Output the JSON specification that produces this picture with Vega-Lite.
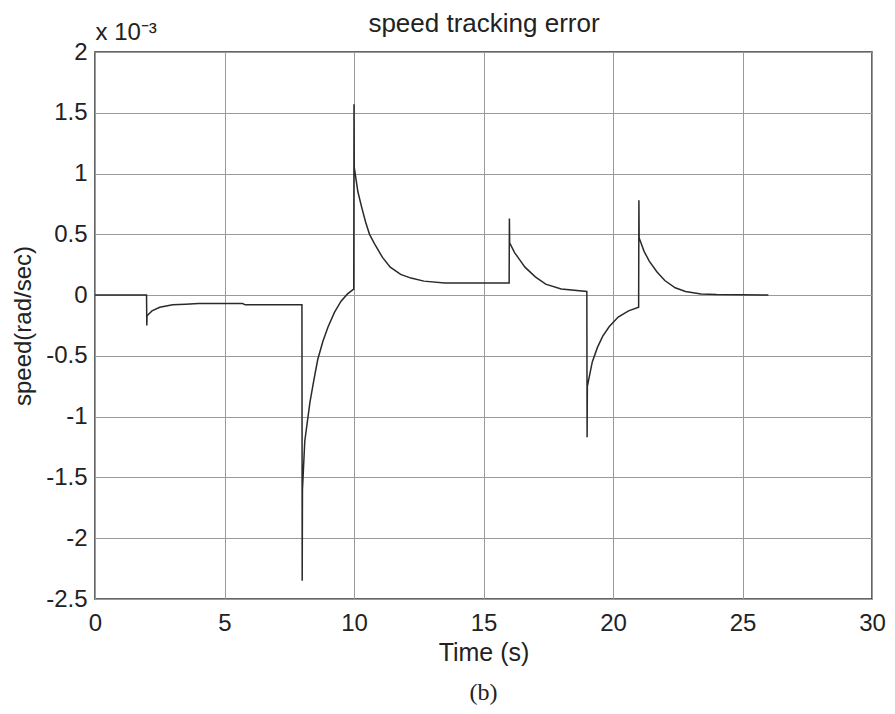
{
  "$schema": "https://vega.github.io/schema/vega-lite/v6.json",
  "width": 777,
  "height": 547,
  "autosize": {"type": "none"},
  "padding": {"left": 95, "top": 52, "right": 23, "bottom": 115},
  "background": "white",
  "config": {
    "font": "Liberation Sans",
    "view": {"stroke": "#333333", "strokeWidth": 1.5},
    "axis": {"labelFont": "Liberation Sans", "titleFont": "Liberation Sans", "labelColor": "#222222", "titleColor": "#222222", "titleFontWeight": "normal", "labelFlush": false}
  },
  "title": {"text": "(b)", "orient": "bottom", "font": "Liberation Serif", "fontSize": 24, "fontWeight": "normal", "color": "#222222", "offset": 16, "anchor": "middle"},
  "data": {"values": [
    {"t": 0, "v": 0}, {"t": 1.99, "v": 0}, {"t": 2.0, "v": -0.25}, {"t": 2.01, "v": -0.17},
    {"t": 2.2, "v": -0.13}, {"t": 2.5, "v": -0.1}, {"t": 3.0, "v": -0.08}, {"t": 3.5, "v": -0.075},
    {"t": 4.0, "v": -0.07}, {"t": 5.7, "v": -0.07}, {"t": 5.8, "v": -0.08}, {"t": 7.99, "v": -0.08},
    {"t": 8.0, "v": -2.35}, {"t": 8.01, "v": -1.6}, {"t": 8.1, "v": -1.2}, {"t": 8.3, "v": -0.88},
    {"t": 8.45, "v": -0.7}, {"t": 8.6, "v": -0.53}, {"t": 8.8, "v": -0.38}, {"t": 9.0, "v": -0.26},
    {"t": 9.25, "v": -0.14}, {"t": 9.5, "v": -0.05}, {"t": 9.75, "v": 0.01}, {"t": 9.99, "v": 0.05},
    {"t": 10.0, "v": 1.57}, {"t": 10.01, "v": 1.05}, {"t": 10.15, "v": 0.85}, {"t": 10.3, "v": 0.72},
    {"t": 10.45, "v": 0.6}, {"t": 10.6, "v": 0.5}, {"t": 10.8, "v": 0.42}, {"t": 11.1, "v": 0.31},
    {"t": 11.4, "v": 0.23}, {"t": 11.8, "v": 0.17}, {"t": 12.2, "v": 0.14}, {"t": 12.7, "v": 0.115},
    {"t": 13.5, "v": 0.1}, {"t": 15.99, "v": 0.1}, {"t": 16.0, "v": 0.63}, {"t": 16.01, "v": 0.43},
    {"t": 16.2, "v": 0.35}, {"t": 16.4, "v": 0.29}, {"t": 16.6, "v": 0.23}, {"t": 17.0, "v": 0.15},
    {"t": 17.4, "v": 0.09}, {"t": 18.0, "v": 0.05}, {"t": 18.99, "v": 0.03}, {"t": 19.0, "v": -1.17},
    {"t": 19.01, "v": -0.75}, {"t": 19.2, "v": -0.55}, {"t": 19.4, "v": -0.43}, {"t": 19.6, "v": -0.34},
    {"t": 19.85, "v": -0.26}, {"t": 20.2, "v": -0.18}, {"t": 20.6, "v": -0.13}, {"t": 20.99, "v": -0.1},
    {"t": 21.0, "v": 0.78}, {"t": 21.01, "v": 0.47}, {"t": 21.2, "v": 0.36}, {"t": 21.4, "v": 0.28},
    {"t": 21.7, "v": 0.19}, {"t": 22.0, "v": 0.12}, {"t": 22.4, "v": 0.06}, {"t": 22.8, "v": 0.03},
    {"t": 23.4, "v": 0.01}, {"t": 24.0, "v": 0.005}, {"t": 26.0, "v": 0}
  ]},
  "layer": [
    {
      "mark": {"type": "line", "color": "#2a2a2a", "strokeWidth": 1.5, "clip": true},
      "encoding": {
        "x": {"field": "t", "type": "quantitative",
          "scale": {"domain": [0, 30], "nice": false, "zero": false},
          "axis": {"orient": "bottom", "values": [0, 5, 10, 15, 20, 25, 30], "format": "d",
            "grid": true, "gridColor": "#9a9a9a", "gridWidth": 1, "gridOpacity": 1,
            "domain": false, "ticks": false, "tickSize": 0,
            "labelFontSize": 24, "labelPadding": 31, "labelBaseline": "alphabetic",
            "title": "Time (s)", "titleFontSize": 25, "titleBaseline": "alphabetic", "titleX": 388.5, "titleY": 61}},
        "y": {"field": "v", "type": "quantitative",
          "scale": {"domain": [-2.5, 2], "nice": false, "zero": false},
          "axis": {"values": [-2.5, -2, -1.5, -1, -0.5, 0, 0.5, 1, 1.5, 2],
            "labelExpr": "datum.value < 0 ? '-' + format(-datum.value, '~g') : format(datum.value, '~g')",
            "grid": true, "gridColor": "#9a9a9a", "gridWidth": 1, "gridOpacity": 1,
            "domain": false, "ticks": false, "tickSize": 0,
            "labelFontSize": 24, "labelPadding": 8,
            "title": "speed(rad/sec)", "titleFontSize": 24, "titleAngle": -90, "titleBaseline": "alphabetic", "titleX": -65, "titleY": 273.5}}
      }
    },
    {
      "mark": {"type": "rule", "opacity": 0},
      "encoding": {
        "x": {"field": "t", "type": "quantitative",
          "axis": {"orient": "top", "labels": false, "ticks": false, "domain": false, "grid": false,
            "title": "speed tracking error", "titleFontSize": 26, "titleBaseline": "alphabetic", "titleX": 388.5, "titleY": -21}}
      }
    },
    {
      "mark": {"type": "rule", "opacity": 0},
      "encoding": {
        "x": {"field": "t", "type": "quantitative",
          "axis": {"orient": "top", "labels": false, "ticks": false, "domain": false, "grid": false,
            "title": "x 10⁻³", "titleFontSize": 24, "titleAlign": "left", "titleBaseline": "alphabetic", "titleX": 0, "titleY": -13}}
      }
    }
  ],
  "resolve": {"axis": {"x": "independent"}}
}
